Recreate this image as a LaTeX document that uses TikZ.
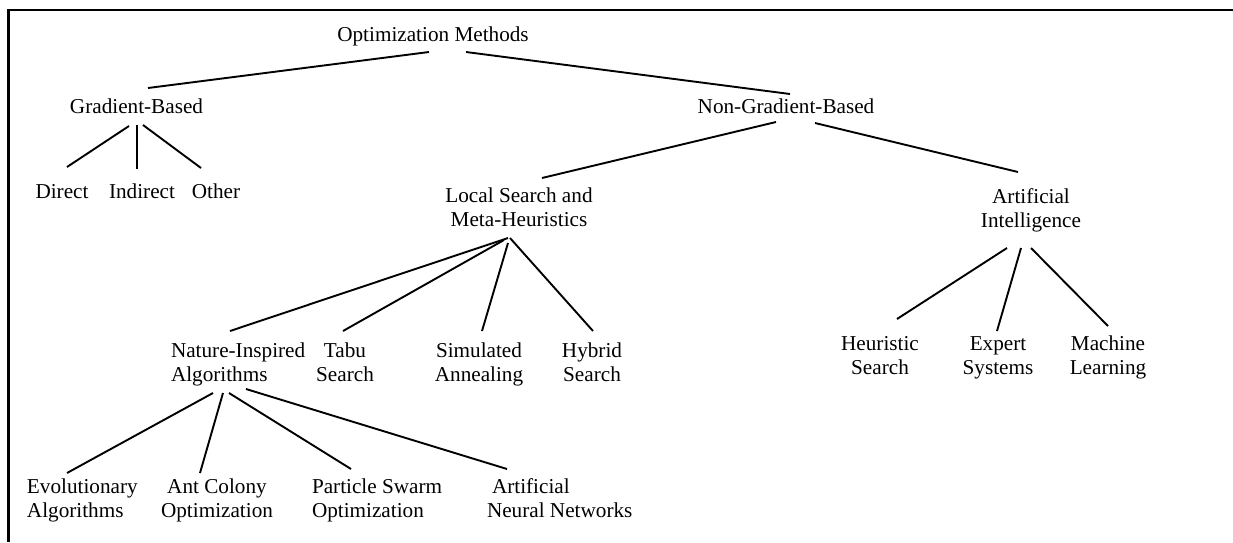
\documentclass[tikz,border=0pt]{standalone}
\usepackage{fontspec}
\setmainfont{Liberation Serif}
% two-line labels whose base anchor sits on the first line
\newcommand{\twoc}[2]{\begin{tabular}[t]{@{}c@{}}#1\\#2\end{tabular}}
\newcommand{\twol}[2]{\begin{tabular}[t]{@{}l@{}}#1\\#2\end{tabular}}
\begin{document}
\begin{tikzpicture}[x=1pt,y=-1pt,
  lbl/.style={inner sep=0pt,outer sep=0pt,anchor=base,font=\fontsize{21.2}{24}\selectfont},
  lblw/.style={lbl,anchor=base west},
  edge/.style={line width=1.9pt},
  frame/.style={line width=2.6pt}]
\useasboundingbox (0,0) rectangle (1233,542);
\fill[white] (0,0) rectangle (1233,542);
% open frame: top and left rules
\draw[frame] (1233,10) -- (8.7,10) -- (8.7,542);

% level 0
\node[lbl] (root) at (433,41) {Optimization Methods};
% level 1
\node[lbl] (gb)  at (136.5,113) {Gradient-Based};
\node[lbl] (ngb) at (786,113) {Non-Gradient-Based};
% gradient-based leaves
\node[lbl] (direct)   at (62,198)  {Direct};
\node[lbl] (indirect) at (142,198) {Indirect};
\node[lbl] (other)    at (216,198) {Other};
% non-gradient branches
\node[lbl] (ls) at (519,202)  {\twoc{Local Search and}{Meta-Heuristics}};
\node[lbl] (ai) at (1031,203) {\twoc{Artificial}{Intelligence}};
% local search children
\node[lblw] (nia) at (171,357) {\twol{Nature-Inspired}{Algorithms}};
\node[lbl] (tabu) at (345,357) {\twoc{Tabu}{Search}};
\node[lbl] (sa)   at (479,357) {\twoc{Simulated}{Annealing}};
\node[lbl] (hs)   at (592,357) {\twoc{Hybrid}{Search}};
% AI children
\node[lbl] (heur) at (880,350)  {\twoc{Heuristic}{Search}};
\node[lbl] (exp)  at (998,350)  {\twoc{Expert}{Systems}};
\node[lbl] (ml)   at (1108,350) {\twoc{Machine}{Learning}};
% nature-inspired children
\node[lblw] (evo) at (27,493)  {\twol{Evolutionary}{Algorithms}};
\node[lbl]  (aco) at (217,493) {\twoc{Ant Colony}{Optimization}};
\node[lblw] (pso) at (312,493) {\twol{Particle Swarm}{Optimization}};
\node[lblw] (ann) at (487,493) {\twol{\hspace*{5pt}Artificial}{Neural Networks}};

% connectors
\draw[edge] ([shift={(-4,11)}]root.base) -- ([shift={(11.5,-25)}]gb.base);
\draw[edge] ([shift={(33,11)}]root.base) -- ([shift={(4,-19)}]ngb.base);

\draw[edge] ([shift={(-7.5,13)}]gb.base) -- ([shift={(5,-31)}]direct.base);
\draw[edge] ([shift={(0.5,12)}]gb.base) -- ([shift={(-5,-29)}]indirect.base);
\draw[edge] ([shift={(6.5,12)}]gb.base) -- ([shift={(-15,-30)}]other.base);

\draw[edge] ([shift={(-10,9)}]ngb.base) -- ([shift={(23,-24)}]ls.base);
\draw[edge] ([shift={(29,10)}]ngb.base) -- ([shift={(-13,-31)}]ai.base);

\draw[edge] ([shift={(-11,36)}]ls.base) -- ([shift={(59,-26)}]nia.base west);
\draw[edge] ([shift={(-15,38)}]ls.base) -- ([shift={(-2,-26)}]tabu.base);
\draw[edge] ([shift={(-11,41)}]ls.base) -- ([shift={(3,-26)}]sa.base);
\draw[edge] ([shift={(-9,36)}]ls.base) -- ([shift={(1,-26)}]hs.base);

\draw[edge] ([shift={(42,36)}]nia.base west) -- ([shift={(40,-20)}]evo.base west);
\draw[edge] ([shift={(52,36)}]nia.base west) -- ([shift={(-17,-20)}]aco.base);
\draw[edge] ([shift={(58,36)}]nia.base west) -- ([shift={(39,-24)}]pso.base west);
\draw[edge] ([shift={(75,32)}]nia.base west) -- ([shift={(20,-24)}]ann.base west);

\draw[edge] ([shift={(-24,45)}]ai.base) -- ([shift={(17,-31)}]heur.base);
\draw[edge] ([shift={(-10,45)}]ai.base) -- ([shift={(-1,-19)}]exp.base);
\draw[edge] ([shift={(0,45)}]ai.base) -- ([shift={(0,-24)}]ml.base);
\end{tikzpicture}
\end{document}
